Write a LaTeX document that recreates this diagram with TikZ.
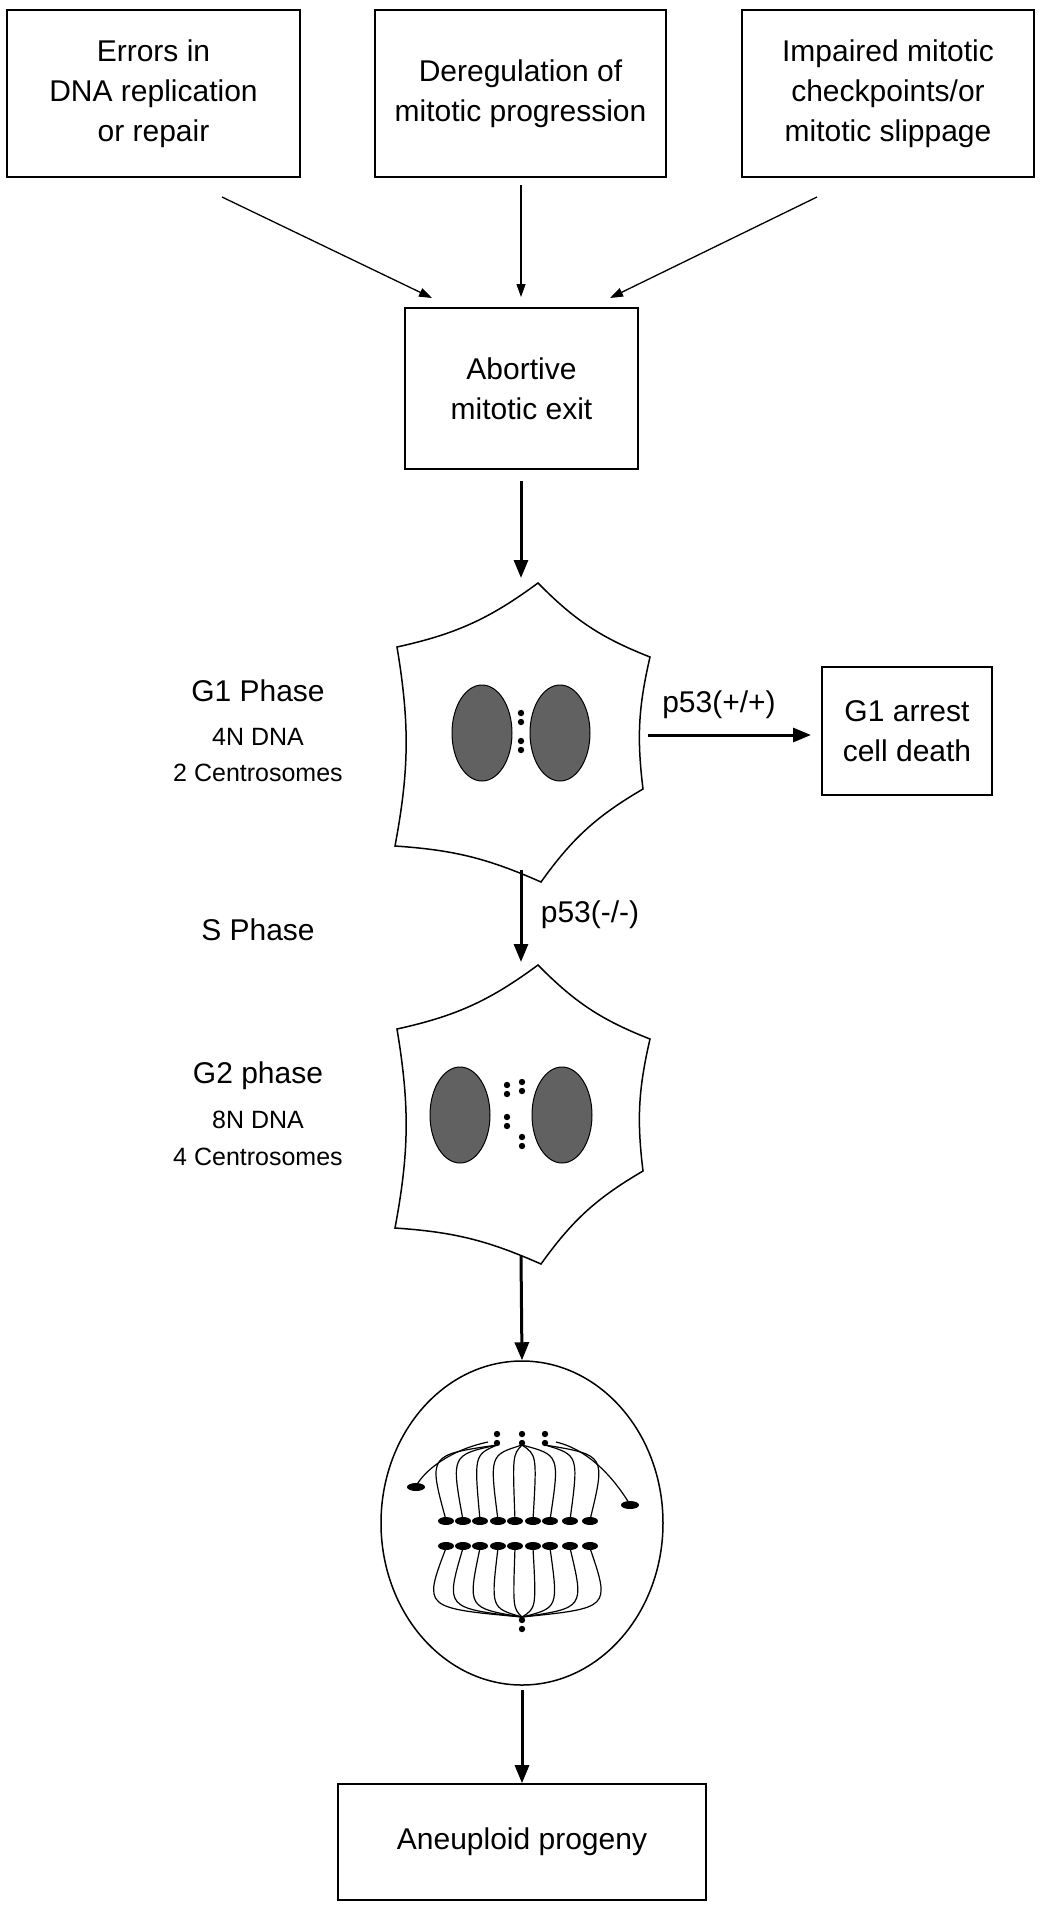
\documentclass[tikz,border=0pt]{standalone}
\usepackage{fontspec}
\setmainfont{Liberation Sans}
\usetikzlibrary{arrows.meta,shapes.geometric}
\begin{document}
\begin{tikzpicture}[x=1pt,y=-1pt,
  box/.style={draw,line width=1.6pt,inner sep=0pt},
  txt/.style={font=\fontsize{30}{40}\selectfont,align=center},
  stxt/.style={font=\fontsize{25}{31}\selectfont,align=center},
  thin/.style={line width=1.3pt,-{Triangle[length=13pt,width=9pt]}},
  thick/.style={line width=3pt,-{Triangle[length=18pt,width=14pt]}},
  nuc/.style={draw,line width=1pt,fill=black!62},
  dot/.style={fill=black}]
\useasboundingbox (0,0) rectangle (1041,1920);
% top boxes
\node[box,minimum width=293pt,minimum height=167pt] (b1) at (153.5,93.5) {};
\node[txt] at (b1) {Errors in\\DNA replication\\or repair};
\node[box,minimum width=291pt,minimum height=167pt] (b2) at (520.5,93.5) {};
\node[txt] at (b2) {Deregulation of\\mitotic progression};
\node[box,minimum width=292pt,minimum height=167pt] (b3) at (888,93.5) {};
\node[txt] at (b3) {Impaired mitotic\\checkpoints/or\\mitotic slippage};
\node[box,minimum width=233pt,minimum height=161pt] (ab) at (521.5,388.5) {};
\node[txt] at (ab) {Abortive\\mitotic exit};
\coordinate (a1s) at (222,197); \coordinate (a1e) at (432,298);
\coordinate (a2s) at (521,185); \coordinate (a2e) at (521,297);
\coordinate (a3s) at (817,197); \coordinate (a3e) at (610,298);
\draw[thin] (a1s) -- (a1e);
\draw[thin] (a2s) -- (a2e);
\draw[thin] (a3s) -- (a3e);
\coordinate (ab1) at (521,481); \coordinate (c1t) at (521,578);
\draw[thick] (ab1) -- (c1t);
% cells
\newcommand{\cellshape}{%
  \draw[line width=1.5pt,fill=white] (538,583) to[bend right=12] (650,657) to[bend right=10] (643,789)
   to[bend right=12] (541,882) to[bend right=10] (395,846) to[bend right=10] (397,647) to[bend right=12] cycle;}
\cellshape
\node[nuc,ellipse,minimum width=60pt,minimum height=96pt] (n1) at (482,733) {};
\node[nuc,ellipse,minimum width=60pt,minimum height=96pt] (n2) at (560,733) {};
\foreach \y in {713,722,741,750} \fill (521,\y) circle (3.2);
\node[txt,anchor=base] (g1) at (258,701) {G1 Phase};
\node[stxt,anchor=base] (g1a) at (258,745) {4N DNA};
\node[stxt,anchor=base] (g1b) at (258,781) {2 Centrosomes};
\node[box,minimum width=170pt,minimum height=128pt] (arr) at (907,731) {};
\node[txt] at (arr) {G1 arrest\\cell death};
\coordinate (p1s) at (648,735); \coordinate (p1e) at (811,735);
\draw[thick] (p1s) -- (p1e);
\node[txt,anchor=base] (pp) at (719,712) {p53(+/+)};
\coordinate (c1b) at (521,870); \coordinate (c2t) at (521,962);
\draw[thick] (c1b) -- (c2t);
\node[txt,anchor=base] (pm) at (590,922) {p53(-/-)};
\node[txt,anchor=base] (sp) at (258,940) {S Phase};
\begin{scope}[yshift=-382pt]
\cellshape
\node[nuc,ellipse,minimum width=60pt,minimum height=96pt] (n3) at (460,733) {};
\node[nuc,ellipse,minimum width=60pt,minimum height=96pt] (n4) at (562,733) {};
\foreach \x/\y in {507/703,507/712,522/700,522/709,507/735,507/744,522/755,522/764} \fill (\x,\y) circle (3.2);
\end{scope}
\node[txt,anchor=base] (g2) at (258,1083) {G2 phase};
\node[stxt,anchor=base] (g2a) at (258,1128) {8N DNA};
\node[stxt,anchor=base] (g2b) at (258,1165) {4 Centrosomes};
\coordinate (c2b) at (521,1256);
\node[draw,line width=1.5pt,ellipse,minimum width=282pt,minimum height=324pt,inner sep=0pt] (sp2) at (522,1523) {};
\draw[thick] (c2b) -- (sp2.north);
% spindle
\coordinate (pl) at (497,1445); \coordinate (pc) at (522,1445); \coordinate (pr) at (545,1445);
\coordinate (pb) at (522,1617);
\foreach \x in {497,522,545} {\fill (\x,1434) circle (3.2); \fill (\x,1443) circle (3.2);}
\fill (522,1620) circle (3.2); \fill (522,1629) circle (3.2);
\foreach \x/\p/\px in {446/pl/497,463/pl/497,480/pl/497,498/pc/522,515/pc/522,533/pc/522,550/pc/522,570/pr/545,590/pr/545}
  \draw[line width=1.2pt] (\p) .. controls ({\x+(\x-\px)*0.35},1455) .. (\x,1520);
\foreach \x in {446,463,480,498,515,533,550,570,590} {
  \fill (\x,1521) ellipse (8 and 4); \fill (\x,1546) ellipse (8 and 4);
  \draw[line width=1.2pt] (pb) .. controls ({\x+(\x-522)*0.3},1608) .. (\x,1548);}
\draw[line width=1.2pt] (488,1442) .. controls (450,1450) and (425,1470) .. (416,1486);
\fill (416,1487) ellipse (9 and 4);
\draw[line width=1.2pt] (556,1442) .. controls (590,1450) and (615,1480) .. (629,1503);
\fill (630,1505) ellipse (9 and 4);
\node[box,minimum width=368pt,minimum height=116pt] (an) at (522,1842) {};
\node[txt] at (an) {Aneuploid progeny};
\draw[thick] (sp2.south) ++(0,4) coordinate (sb) (sb) -- (an.north);
\end{tikzpicture}
\end{document}
